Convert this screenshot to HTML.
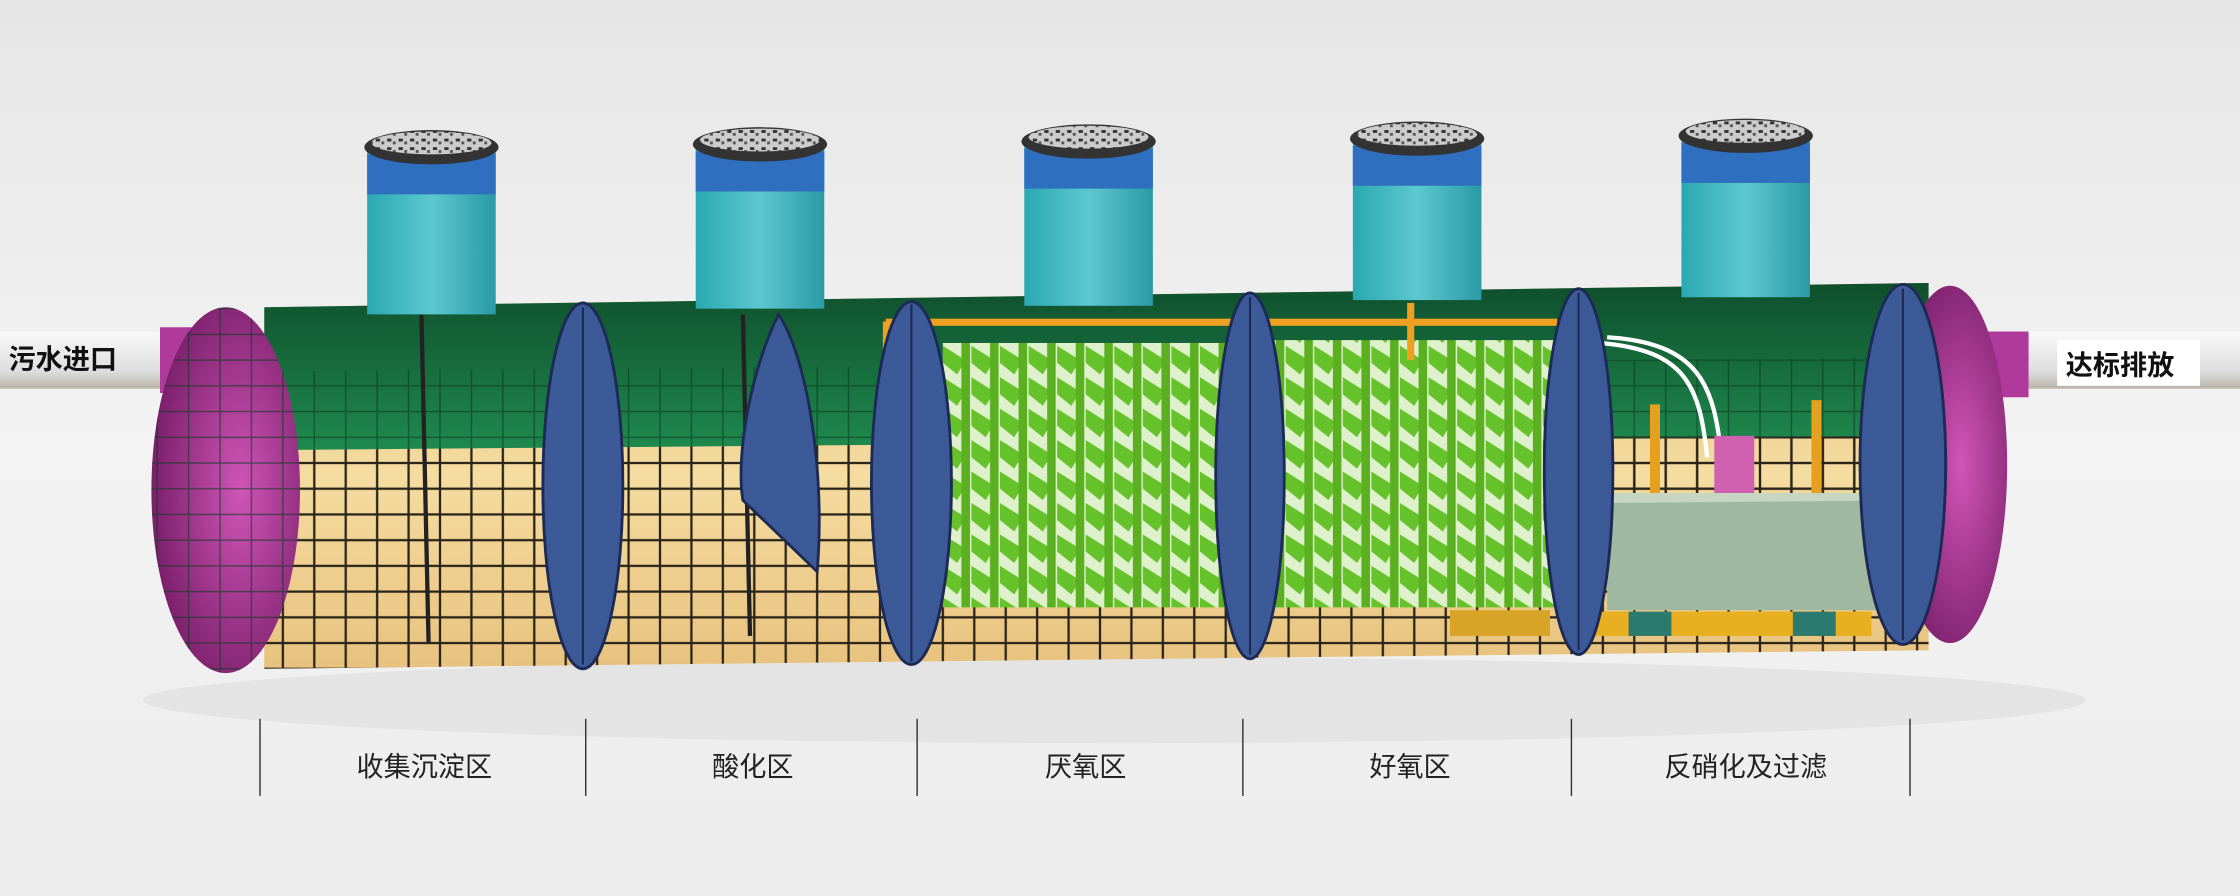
<!DOCTYPE html>
<html><head><meta charset="utf-8"><style>
html,body{margin:0;padding:0;width:2240px;height:896px;overflow:hidden;background:#eee}
svg{display:block}
text{font-family:"Liberation Sans","Noto Sans CJK SC",sans-serif}
</style></head><body>
<svg width="2240" height="896" viewBox="0 0 1568 627" preserveAspectRatio="none" xmlns="http://www.w3.org/2000/svg">
<defs>
<linearGradient id="bg" x1="0" y1="0" x2="0" y2="1"><stop offset="0" stop-color="#e6e6e6"/><stop offset="0.5" stop-color="#f3f3f3"/><stop offset="1" stop-color="#ececec"/></linearGradient>
<linearGradient id="grn" x1="0" y1="0" x2="0" y2="1"><stop offset="0" stop-color="#0f4f2c"/><stop offset="1" stop-color="#1f8a4e"/></linearGradient>
<linearGradient id="tan" x1="0" y1="0" x2="0" y2="1"><stop offset="0" stop-color="#e4bd7c"/><stop offset="0.5" stop-color="#f5dca0"/><stop offset="1" stop-color="#e8c27e"/></linearGradient>
<linearGradient id="teal" x1="0" y1="0" x2="1" y2="0"><stop offset="0" stop-color="#2aa8b2"/><stop offset="0.5" stop-color="#5cc8cf"/><stop offset="1" stop-color="#2a9aa6"/></linearGradient>
<radialGradient id="mag" cx="0.6" cy="0.5" r="0.6"><stop offset="0" stop-color="#d055b8"/><stop offset="1" stop-color="#7a1f6a"/></radialGradient>
<linearGradient id="pipe" x1="0" y1="0" x2="0" y2="1"><stop offset="0" stop-color="#fafafa"/><stop offset="0.7" stop-color="#ddd"/><stop offset="1" stop-color="#b8b3a8"/></linearGradient>
<pattern id="grid" width="22" height="18" patternUnits="userSpaceOnUse"><rect width="22" height="18" fill="none" stroke="#2a2418" stroke-width="1.6"/></pattern>
<pattern id="ggrid" width="22" height="18" patternUnits="userSpaceOnUse"><rect width="22" height="18" fill="none" stroke="#0c3a20" stroke-width="1"/></pattern>
<pattern id="lid" width="8" height="6" patternUnits="userSpaceOnUse"><rect width="8" height="6" fill="#ccc"/><rect x="1" y="1" width="3" height="2" fill="#333"/><rect x="5" y="3" width="2" height="2" fill="#555"/></pattern>
<pattern id="media" width="20" height="22" patternUnits="userSpaceOnUse"><rect width="20" height="22" fill="#dff0cc"/><path d="M0 0 L16 10 L10 20 L0 12 Z" fill="#66c22a"/><rect x="13" y="0" width="6" height="22" fill="#5ab020"/></pattern>
</defs>
<rect width="1568" height="627" fill="url(#bg)"/>
<ellipse cx="780" cy="490" rx="680" ry="30" fill="#dcdcdc" opacity="0.6"/>
<!-- pipes -->
<rect x="0" y="232" width="140" height="40" fill="url(#pipe)"/>
<rect x="1380" y="232" width="188" height="40" fill="url(#pipe)"/>
<rect x="112" y="229" width="60" height="46" fill="#b03a9c"/>
<rect x="1375" y="232" width="45" height="46" fill="#b03a9c"/>
<text x="6" y="258" font-size="19" font-weight="bold" fill="#111">污水进口</text>
<rect x="1440" y="238" width="100" height="32" fill="#fff"/>
<text x="1446" y="262" font-size="19" font-weight="bold" fill="#111">达标排放</text>
<!-- tank body -->
<path d="M185 215 L1350 198 L1350 455 L185 468 Z" fill="url(#tan)"/>
<path d="M185 215 L1350 198 L1350 305 L185 315 Z" fill="url(#grn)"/>
<path d="M185 315 L1350 305 L1350 455 L185 468 Z" fill="url(#grid)"/>
<path d="M185 260 L1350 250 L1350 305 L185 315 Z" fill="url(#ggrid)" opacity="0.6"/>
<line x1="295" y1="220" x2="300" y2="450" stroke="#222" stroke-width="3"/>
<line x1="520" y1="220" x2="525" y2="445" stroke="#222" stroke-width="3"/>
<!-- green media -->
<rect x="660" y="240" width="205" height="185" fill="url(#media)"/>
<rect x="890" y="238" width="205" height="187" fill="url(#media)"/>
<rect x="1015" y="427" width="70" height="18" fill="#d8a428"/>
<!-- orange pipe -->
<rect x="620" y="223" width="470" height="5" fill="#f0a020"/>
<rect x="985" y="212" width="5" height="40" fill="#f0a020"/>
<rect x="618" y="225" width="6" height="30" fill="#f0a020"/>
<!-- right chamber -->
<rect x="1125" y="305" width="210" height="40" fill="url(#grid)" opacity="0.5"/>
<path d="M1120 240 C1180 245 1190 270 1195 320" stroke="#fff" stroke-width="3" fill="none"/>
<path d="M1125 236 C1190 240 1200 270 1205 320" stroke="#fff" stroke-width="3" fill="none"/>
<rect x="1155" y="283" width="7" height="85" fill="#e6a020"/>
<rect x="1268" y="280" width="7" height="85" fill="#e6a020"/>
<rect x="1200" y="305" width="28" height="40" fill="#d060b0"/>
<rect x="1196" y="355" width="30" height="6" fill="#eee"/>
<rect x="1125" y="345" width="222" height="82" fill="#9fb8a0"/>
<path d="M1125 345 L1347 345 L1347 350 L1125 352 Z" fill="#c6d6c0"/>
<rect x="1100" y="428" width="210" height="17" fill="#e8b020"/>
<rect x="1140" y="428" width="30" height="17" fill="#2a7a70"/>
<rect x="1255" y="428" width="30" height="17" fill="#2a7a70"/>
<!-- manholes -->
<g>
<g transform="translate(302,0)"><rect x="-45" y="100" width="90" height="120" fill="url(#teal)"/><rect x="-45" y="108" width="90" height="28" fill="#2f6fc0"/><ellipse cx="0" cy="103" rx="47" ry="12" fill="#333"/><ellipse cx="0" cy="100" rx="42" ry="8" fill="url(#lid)"/></g>
<g transform="translate(532,0)"><rect x="-45" y="98" width="90" height="118" fill="url(#teal)"/><rect x="-45" y="106" width="90" height="28" fill="#2f6fc0"/><ellipse cx="0" cy="101" rx="47" ry="12" fill="#333"/><ellipse cx="0" cy="98" rx="42" ry="8" fill="url(#lid)"/></g>
<g transform="translate(762,0)"><rect x="-45" y="96" width="90" height="118" fill="url(#teal)"/><rect x="-45" y="104" width="90" height="28" fill="#2f6fc0"/><ellipse cx="0" cy="99" rx="47" ry="12" fill="#333"/><ellipse cx="0" cy="96" rx="42" ry="8" fill="url(#lid)"/></g>
<g transform="translate(992,0)"><rect x="-45" y="94" width="90" height="116" fill="url(#teal)"/><rect x="-45" y="102" width="90" height="28" fill="#2f6fc0"/><ellipse cx="0" cy="97" rx="47" ry="12" fill="#333"/><ellipse cx="0" cy="94" rx="42" ry="8" fill="url(#lid)"/></g>
<g transform="translate(1222,0)"><rect x="-45" y="92" width="90" height="116" fill="url(#teal)"/><rect x="-45" y="100" width="90" height="28" fill="#2f6fc0"/><ellipse cx="0" cy="95" rx="47" ry="12" fill="#333"/><ellipse cx="0" cy="92" rx="42" ry="8" fill="url(#lid)"/></g>
</g>
<!-- right end cap behind partition -->
<ellipse cx="1365" cy="325" rx="40" ry="125" fill="url(#mag)"/>
<!-- partitions -->
<g fill="#3d5a98" stroke="#1c2a55" stroke-width="2">
<ellipse cx="408" cy="340" rx="28" ry="128"/>
<path d="M545 220 C525 260 515 320 520 350 L572 400 C578 330 565 250 545 220 Z"/>
<ellipse cx="638" cy="338" rx="28" ry="127"/>
<ellipse cx="875" cy="333" rx="24" ry="128"/>
<ellipse cx="1105" cy="330" rx="24" ry="128"/>
<ellipse cx="1332" cy="325" rx="30" ry="126"/>
</g>
<g stroke="#1c2a55" stroke-width="1.5">
<line x1="408" y1="215" x2="408" y2="465"/><line x1="638" y1="213" x2="638" y2="463"/><line x1="875" y1="208" x2="875" y2="458"/><line x1="1105" y1="205" x2="1105" y2="455"/><line x1="1332" y1="202" x2="1332" y2="448"/>
</g>
<!-- left end cap -->
<ellipse cx="158" cy="343" rx="52" ry="128" fill="url(#mag)"/>
<ellipse cx="158" cy="343" rx="52" ry="128" fill="url(#ggrid)" opacity="0.6"/>
<!-- labels -->
<g stroke="#333" stroke-width="1">
<line x1="182" y1="503" x2="182" y2="557"/><line x1="410" y1="503" x2="410" y2="557"/><line x1="642" y1="503" x2="642" y2="557"/><line x1="870" y1="503" x2="870" y2="557"/><line x1="1100" y1="503" x2="1100" y2="557"/><line x1="1337" y1="503" x2="1337" y2="557"/>
</g>
<g font-size="19" fill="#222" text-anchor="middle">
<text x="297" y="543">收集沉淀区</text>
<text x="527" y="543">酸化区</text>
<text x="760" y="543">厌氧区</text>
<text x="987" y="543">好氧区</text>
<text x="1222" y="543">反硝化及过滤</text>
</g>
</svg>
</body></html>
